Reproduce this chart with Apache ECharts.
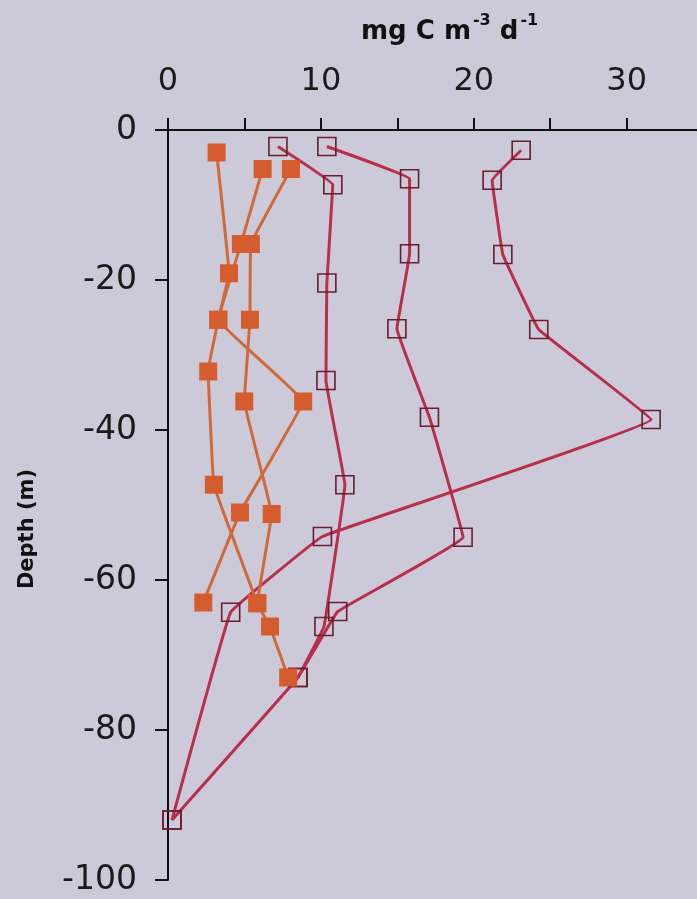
<!DOCTYPE html>
<html>
<head>
<meta charset="utf-8">
<script src="https://cdn.jsdelivr.net/npm/echarts@6/dist/echarts.min.js"></script>
<style>
html,body{margin:0;padding:0;background:#cccad9;}
#chart{width:697px;height:899px;}
</style>
</head>
<body>
<div id="chart"></div>
<script>
// x ticks / y ticks
var xTicks = [0, 10, 20, 30];
var yTicks = [0, -20, -40, -60, -80, -100];

// Orange (filled squares) profiles: [rate, depth]
var orangeA = [[3.18,-3.0],[3.99,-19.1],[3.29,-25.3],[2.63,-32.2],[3.0,-47.3],[5.84,-63.1]];
var orangeB = [[6.19,-5.2],[4.77,-15.2],[3.29,-25.3],[8.84,-36.2],[4.71,-51.0],[2.31,-63.0]];
var orangeC = [[8.04,-5.2],[5.42,-15.2],[5.36,-25.3],[4.99,-36.2],[6.78,-51.2],[5.84,-63.1],[6.67,-66.2],[7.86,-73.0]];

// Crimson (open squares) profiles: [rate, depth]
var crimsonD = [[7.19,-2.2],[10.78,-7.3],[10.39,-20.4],[10.33,-33.4],[11.57,-47.3],[10.2,-66.2],[8.5,-73.0]];
var crimsonE = [[10.39,-2.2],[15.8,-6.5],[15.8,-16.5],[14.97,-26.5],[17.1,-38.3],[19.3,-54.3],[11.1,-64.2],[8.5,-73.0],[0.26,-92.0]];
var crimsonF = [[23.1,-2.7],[21.2,-6.7],[21.9,-16.6],[24.25,-26.6],[31.6,-38.6],[10.1,-54.2],[4.1,-64.3],[0.26,-92.0]];

var chart = echarts.init(document.getElementById('chart'), null, {renderer:'canvas'});

function orangeSeries(d){
  return {type:'line', data:d, symbol:'rect', symbolSize:18, smooth:0.05,
    lineStyle:{color:'#d0683a', width:3},
    itemStyle:{color:'#d55c2e', borderWidth:0},
    z:3, animation:false};
}
function crimsonSeries(d){
  return {type:'line', data:d, symbol:'rect', symbolSize:18, smooth:0.05,
    lineStyle:{color:'#b72f4a', width:3},
    itemStyle:{color:'rgba(0,0,0,0)', borderColor:'#6b1c2e', borderWidth:1.6},
    z:2, animation:false};
}

var font = 'DejaVu Sans';
chart.setOption({
  backgroundColor:'#cccad9',
  animation:false,
  title:{
    text:'{a|mg C m}{s|-3}{a| d}{s|-1}',
    left:356, top:8,
    textStyle:{
      rich:{
        a:{fontFamily:font, fontWeight:'bold', fontSize:26, color:'#111', verticalAlign:'bottom', lineHeight:32},
        s:{fontFamily:font, fontWeight:'bold', fontSize:16, color:'#111', verticalAlign:'top', lineHeight:32, padding:[0,0,0,2]}
      }
    }
  },
  graphic:[{
    type:'text', left:17, top:469,
    rotation:Math.PI/2,
    style:{text:'Depth (m)', fontFamily:font, fontWeight:'bold', fontSize:21, fill:'#111'}
  }],
  grid:{left:168, top:130, right:0, bottom:19, containLabel:false},
  xAxis:{
    type:'value', position:'top', min:0, max:34.6, interval:5,
    axisLine:{show:true, lineStyle:{color:'#111', width:2}},
    axisTick:{show:true, length:12, lineStyle:{color:'#111', width:2}},
    axisLabel:{show:true, showMaxLabel:false, margin:32, fontFamily:font, fontSize:32, color:'#1a1a1a',
      formatter:function(v){ return xTicks.indexOf(v) >= 0 ? String(v) : ''; }},
    splitLine:{show:false}
  },
  yAxis:{
    type:'value', min:-100, max:0, interval:20,
    axisLine:{show:true, onZero:false, lineStyle:{color:'#111', width:2}},
    axisTick:{show:true, length:13, lineStyle:{color:'#111', width:2}},
    axisLabel:{margin:31, fontFamily:font, fontSize:33, color:'#1a1a1a',
      formatter:function(v){ return yTicks.indexOf(v) >= 0 ? String(v) : ''; }},
    splitLine:{show:false}
  },
  series:[
    crimsonSeries(crimsonD), crimsonSeries(crimsonE), crimsonSeries(crimsonF),
    orangeSeries(orangeA), orangeSeries(orangeB), orangeSeries(orangeC)
  ]
});
</script>
</body>
</html>
